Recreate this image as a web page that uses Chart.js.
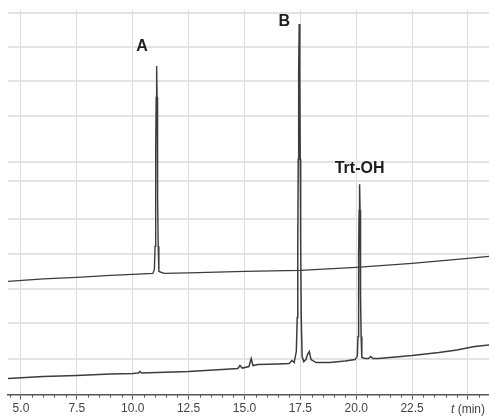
<!DOCTYPE html>
<html>
<head>
<meta charset="utf-8">
<script src="https://cdn.jsdelivr.net/npm/chart.js@4.4.0/dist/chart.umd.min.js"></script>
<style>
  body { margin: 0; background: #fff; }
</style>
</head>
<body>
<canvas id="chrom" width="489" height="418"></canvas>
<script>
// retention time (min) and detector signal (arbitrary units)
const topTime   = [4.42, 6.0, 7.5, 9.0, 10.0, 10.9, 10.97, 11.00, 11.02, 11.035, 11.05, 11.07, 11.09, 11.105, 11.12, 11.14, 11.17, 11.4, 12.5, 15.0, 17.5, 20.0, 22.5, 25.0, 25.94];
const topSignal = [113, 115.5, 117, 119, 120, 121, 125, 148, 196, 245, 297, 328, 297, 245, 196, 148, 123, 121, 121.5, 123, 124, 127, 131, 136, 138];

const bottomTime   = [4.42, 6.0, 7.5, 9.0, 10.0, 10.25, 10.32, 10.4, 12.5, 14.0, 14.7, 14.8, 14.9, 15.2, 15.3, 15.38, 15.6, 16.5, 17.0, 17.12, 17.22,
                      17.32, 17.36, 17.385, 17.405, 17.425, 17.45, 17.475, 17.495, 17.515, 17.54, 17.58, 17.65, 17.75, 17.82, 17.9, 17.98, 18.2, 18.8, 19.5, 19.95,
                      20.05, 20.08, 20.10, 20.115, 20.13, 20.15, 20.17, 20.185, 20.20, 20.22, 20.25, 20.4, 20.55, 20.65, 20.75, 21.0, 22.5, 23.7, 24.5, 25.3, 25.94];
const bottomSignal = [16, 18, 19, 20.5, 21, 21.5, 23, 21.5, 23, 25, 26, 29, 26.5, 28, 36, 29, 30, 30.5, 31, 34, 32,
                      43, 77, 151, 235, 323, 370, 323, 235, 151, 77, 38, 33, 35, 40, 43, 35, 32, 32, 33.5, 35,
                      38.5, 58, 98, 140, 184, 210, 184, 140, 98, 58, 37, 36, 36, 38, 36, 36, 39, 42, 44.5, 48, 49.5];

const xMin = 4.42;
const xMax = 25.94;
const xMajorTicks = [5.0, 7.5, 10.0, 12.5, 15.0, 17.5, 20.0, 22.5, 25.0];
const gridSignal = [36, 71, 105, 140, 175, 213, 232, 278, 313, 347, 381];

const peakLabels = ['A', 'B', 'Trt-OH'];
const peakLabelTime = [10.42, 16.78, 20.15];
const peakLabelSignal = [347, 372, 226];

function toPoints(xs, ys) {
    return xs.map((t, i) => ({x: t, y: ys[i]}));
}

const decorations = {
    id: 'decorations',
    afterDraw(chart) {
        const ctx = chart.ctx;
        const x = chart.scales.x;
        const y = chart.scales.y;
        ctx.save();
        // minor ticks every 0.5 min
        ctx.strokeStyle = '#555';
        ctx.lineWidth = 1;
        for (let v = 4.5; v <= 25.5; v += 0.5) {
            if (Math.abs(v / 2.5 - Math.round(v / 2.5)) < 1e-6) continue;
            const px = Math.round(x.getPixelForValue(v)) + 0.5;
            ctx.beginPath();
            ctx.moveTo(px, y.bottom);
            ctx.lineTo(px, y.bottom + 3);
            ctx.stroke();
        }
        // peak names
        ctx.font = 'bold 16px "Liberation Sans", Arial, sans-serif';
        ctx.fillStyle = '#1e1e1e';
        ctx.textAlign = 'center';
        ctx.textBaseline = 'middle';
        peakLabels.forEach((name, i) => {
            ctx.fillText(name, x.getPixelForValue(peakLabelTime[i]), y.getPixelForValue(peakLabelSignal[i]));
        });
        // axis title in place of the 25.0 label
        const cx = x.getPixelForValue(25.0);
        const ty = y.bottom + 15;
        ctx.fillStyle = '#444';
        ctx.textAlign = 'left';
        ctx.font = 'italic 12px "Liberation Sans", Arial, sans-serif';
        const w1 = ctx.measureText('t').width;
        ctx.font = '12px "Liberation Sans", Arial, sans-serif';
        const w2 = ctx.measureText(' (min)').width;
        const start = cx - (w1 + w2) / 2;
        ctx.font = 'italic 12px "Liberation Sans", Arial, sans-serif';
        ctx.fillText('t', start, ty);
        ctx.font = '12px "Liberation Sans", Arial, sans-serif';
        ctx.fillText(' (min)', start + w1, ty);
        ctx.restore();
    }
};

const ctx = document.getElementById('chrom').getContext('2d');

const chart = new Chart(ctx, {
    type: 'line',
    data: {
        datasets: [{
            data: toPoints(topTime, topSignal),
            borderColor: '#3c3c3c',
            borderWidth: 1.4,
            pointRadius: 0,
            tension: 0
        }, {
            data: toPoints(bottomTime, bottomSignal),
            borderColor: '#3c3c3c',
            borderWidth: 1.5,
            pointRadius: 0,
            tension: 0
        }]
    },
    options: {
        responsive: false,
        animation: false,
        layout: {
            padding: {left: 8, right: 0, top: 10, bottom: 0}
        },
        plugins: {
            legend: {display: false},
            tooltip: {enabled: false}
        },
        scales: {
            x: {
                type: 'linear',
                min: xMin,
                max: xMax,
                afterBuildTicks: (scale) => {
                    scale.ticks = xMajorTicks.map(v => ({value: v}));
                },
                ticks: {
                    autoSkip: false,
                    maxRotation: 0,
                    padding: 2,
                    color: '#444',
                    font: {family: '"Liberation Sans", Arial, sans-serif', size: 12},
                    callback: (v) => v === 25 ? '' : v.toFixed(1)
                },
                grid: {
                    color: '#dcdcdc',
                    lineWidth: 1,
                    tickLength: 5,
                    tickColor: '#555'
                },
                border: {color: '#555', width: 1.5}
            },
            y: {
                min: 0,
                max: 384,
                afterBuildTicks: (scale) => {
                    scale.ticks = gridSignal.map(v => ({value: v}));
                },
                ticks: {display: false},
                grid: {
                    color: '#e3e3e3',
                    lineWidth: 2,
                    drawTicks: false
                },
                border: {display: false}
            }
        }
    },
    plugins: [decorations]
});
</script>
</body>
</html>
